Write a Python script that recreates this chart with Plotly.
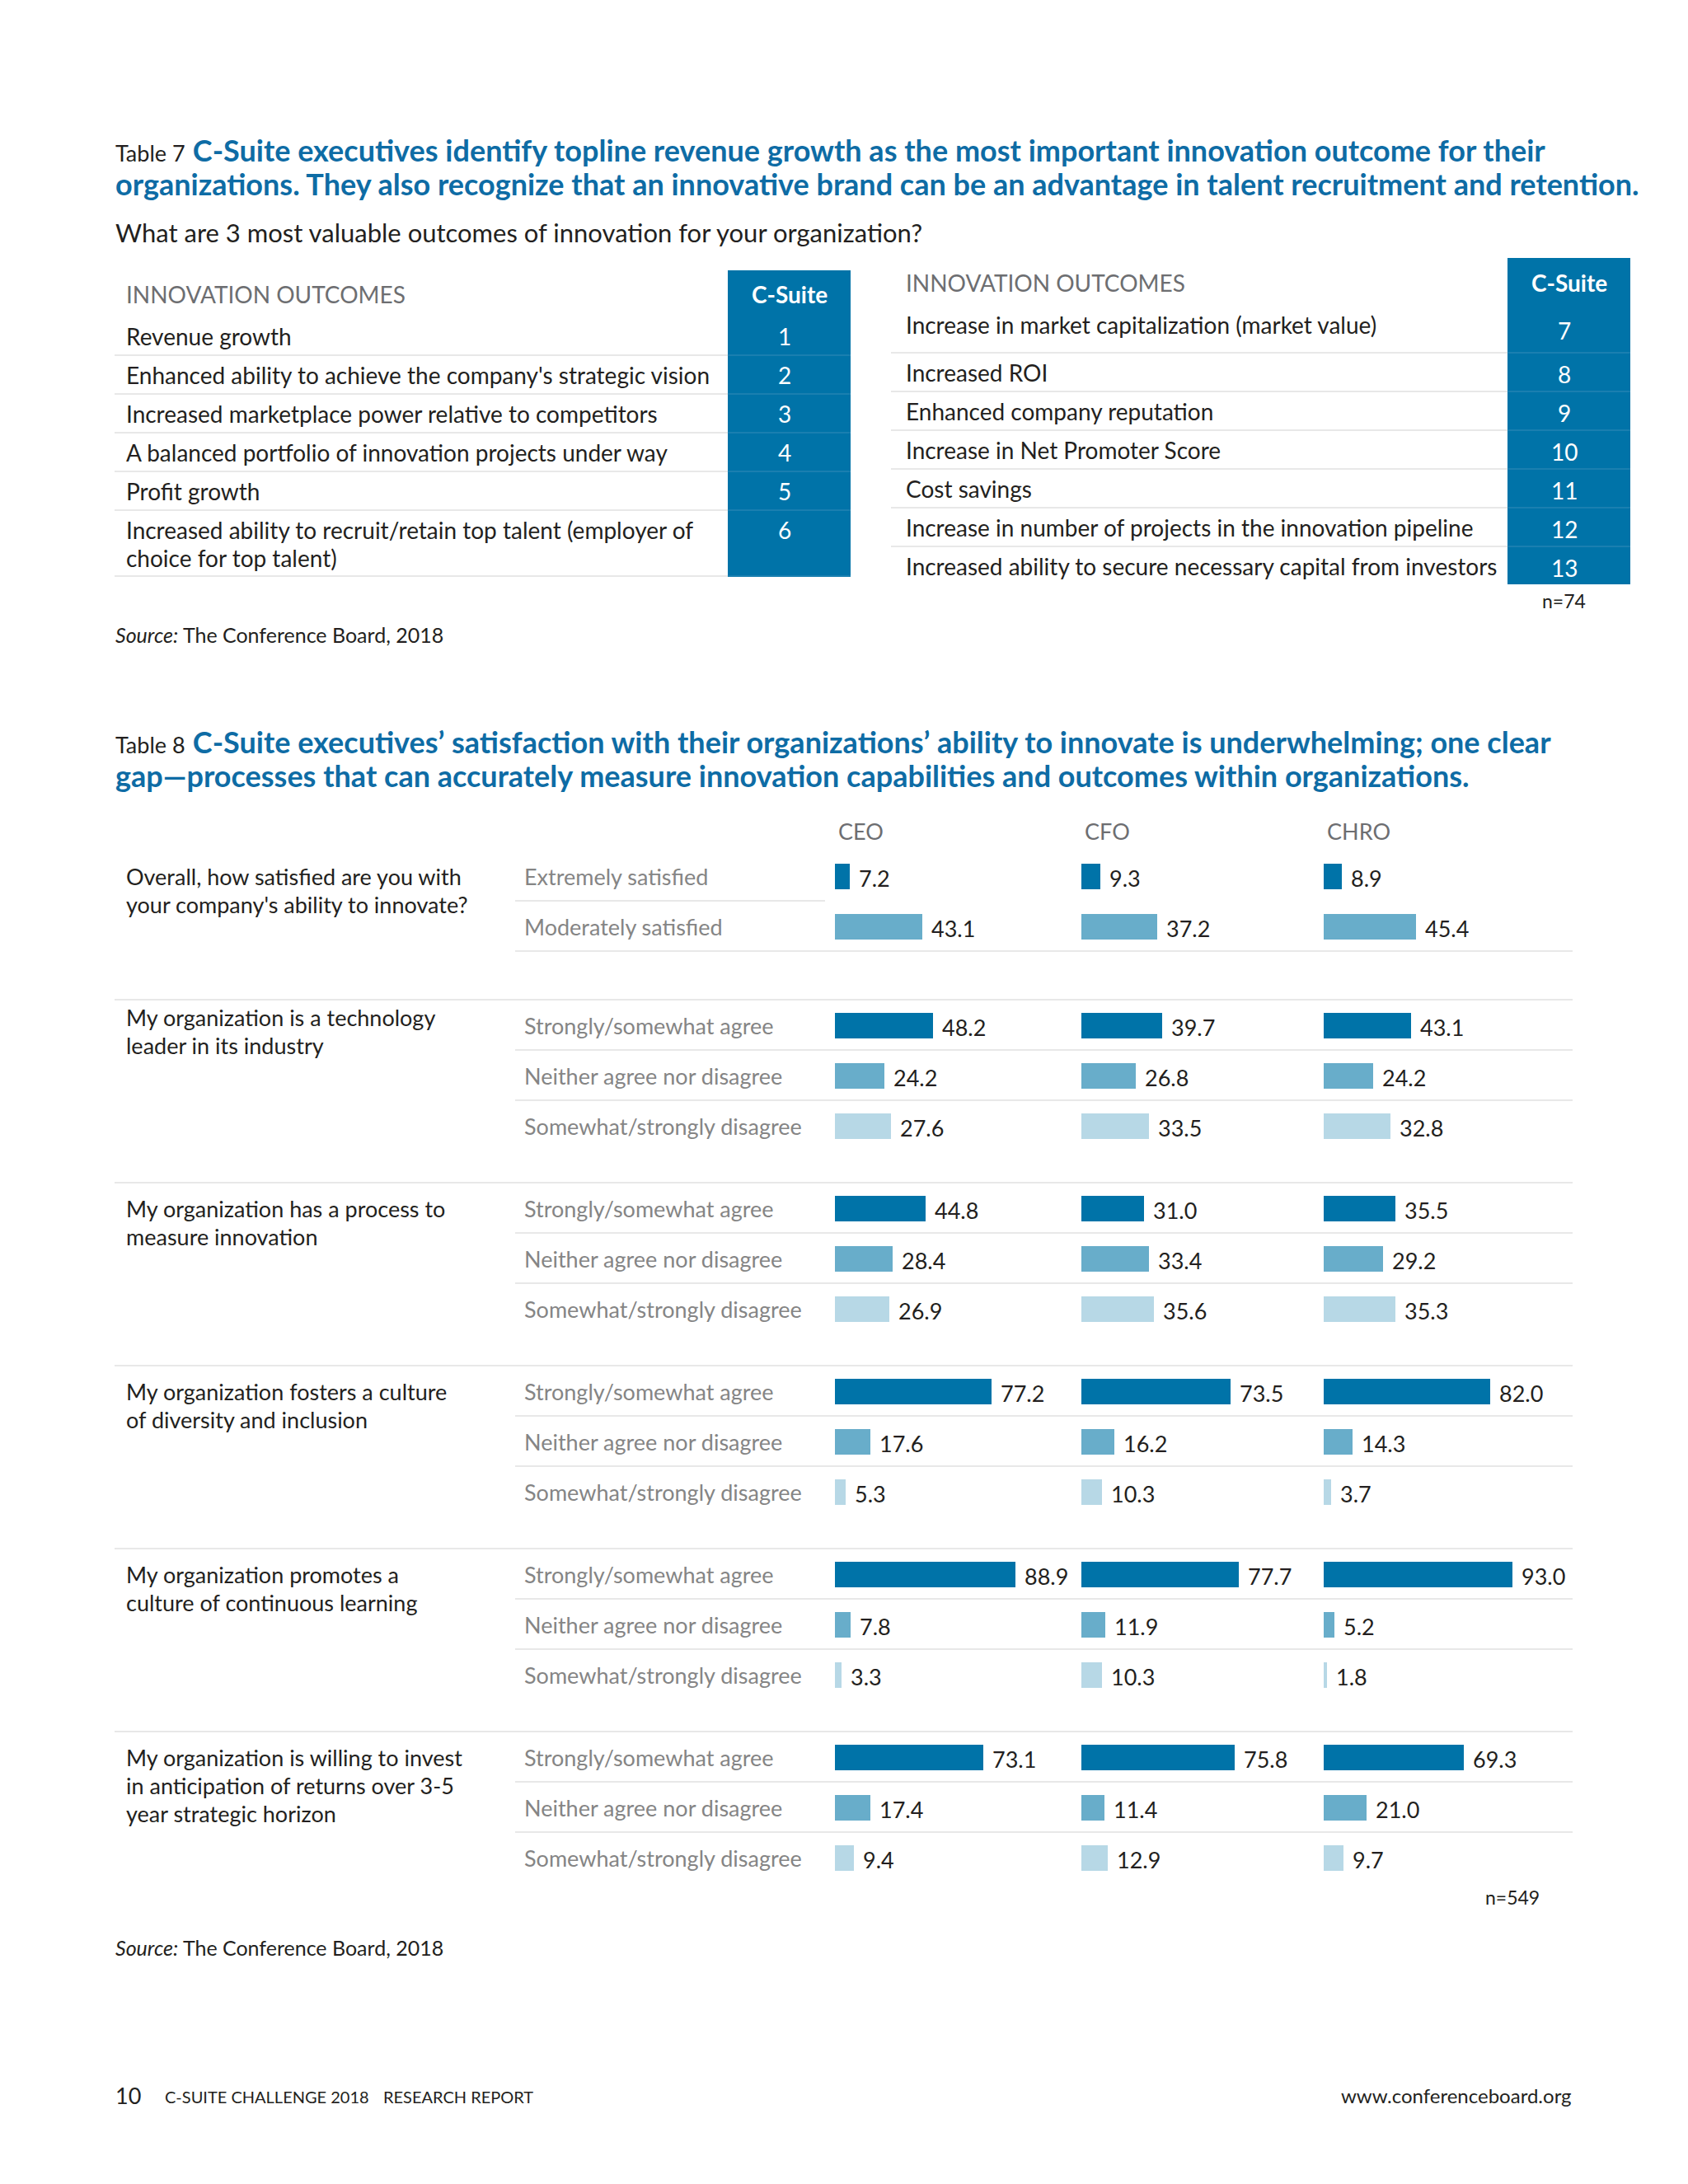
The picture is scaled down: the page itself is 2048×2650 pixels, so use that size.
import plotly.graph_objects as go

W, H = 2048, 2650
OX, OY = 10, 10  # page offset compensation (body margin)
FONT = "Lato"
BLUE = "#0073a8"
MID = "#68adca"
LIGHT = "#b7d8e6"
TITLE_BLUE = "#0e6ca5"
TEXT = "#231f20"
GRAY = "#6d6e71"
LGRAY = "#858585"
RULE = "#e8e8e8"

# ---------------- Table 7 data ----------------
t7_label = "Table 7"
t7_title = ["C-Suite executives identify topline revenue growth as the most important innovation outcome for their",
            "organizations. They also recognize that an innovative brand can be an advantage in talent recruitment and retention."]
t7_question = "What are 3 most valuable outcomes of innovation for your organization?"
col_header = "INNOVATION OUTCOMES"
rank_header = "C-Suite"
outcomes_left = ["Revenue growth",
                 "Enhanced ability to achieve the company's strategic vision",
                 "Increased marketplace power relative to competitors",
                 "A balanced portfolio of innovation projects under way",
                 "Profit growth",
                 "Increased ability to recruit/retain top talent (employer of<br>choice for top talent)"]
ranks_left = [1, 2, 3, 4, 5, 6]
outcomes_right = ["Increase in market capitalization (market value)",
                  "Increased ROI",
                  "Enhanced company reputation",
                  "Increase in Net Promoter Score",
                  "Cost savings",
                  "Increase in number of projects in the innovation pipeline",
                  "Increased ability to secure necessary capital from investors"]
ranks_right = [7, 8, 9, 10, 11, 12, 13]
t7_n = "n=74"
source_text = "<i>Source:</i> The Conference Board, 2018"

# ---------------- Table 8 data ----------------
t8_label = "Table 8"
t8_title = ["C-Suite executives\u2019 satisfaction with their organizations\u2019 ability to innovate is underwhelming; one clear",
            "gap\u2014processes that can accurately measure innovation capabilities and outcomes within organizations."]
roles = ["CEO", "CFO", "CHRO"]
questions = ["Overall, how satisfied are you with<br>your company's ability to innovate?",
             "My organization is a technology<br>leader in its industry",
             "My organization has a process to<br>measure innovation",
             "My organization fosters a culture<br>of diversity and inclusion",
             "My organization promotes a<br>culture of continuous learning",
             "My organization is willing to invest<br>in anticipation of returns over 3-5<br>year strategic horizon"]
group_sizes = [2, 3, 3, 3, 3, 3]
response_labels = ["Extremely satisfied", "Moderately satisfied",
                   "Strongly/somewhat agree", "Neither agree nor disagree", "Somewhat/strongly disagree",
                   "Strongly/somewhat agree", "Neither agree nor disagree", "Somewhat/strongly disagree",
                   "Strongly/somewhat agree", "Neither agree nor disagree", "Somewhat/strongly disagree",
                   "Strongly/somewhat agree", "Neither agree nor disagree", "Somewhat/strongly disagree",
                   "Strongly/somewhat agree", "Neither agree nor disagree", "Somewhat/strongly disagree"]
ceo_values = [7.2, 43.1, 48.2, 24.2, 27.6, 44.8, 28.4, 26.9, 77.2, 17.6, 5.3, 88.9, 7.8, 3.3, 73.1, 17.4, 9.4]
cfo_values = [9.3, 37.2, 39.7, 26.8, 33.5, 31.0, 33.4, 35.6, 73.5, 16.2, 10.3, 77.7, 11.9, 10.3, 75.8, 11.4, 12.9]
chro_values = [8.9, 45.4, 43.1, 24.2, 32.8, 35.5, 29.2, 35.3, 82.0, 14.3, 3.7, 93.0, 5.2, 1.8, 69.3, 21.0, 9.7]
t8_n = "n=549"
footer_page = "10"
footer_pub = "C-SUITE CHALLENGE 2018"
footer_kind = "RESEARCH REPORT"
footer_url = "www.conferenceboard.org"

# ---------------- helpers ----------------
ann = []
shapes = []


def px(x):
    return (x - OX) / W


def py(y):
    return y - OY


def text(x, y, s, size, color=TEXT, anchor="left", family=FONT):
    ann.append(dict(x=px(x), y=py(y), xref="paper", yref="y", text=s, showarrow=False,
                    xanchor=anchor, yanchor="middle", borderpad=0,
                    font=dict(family=family, size=size, color=color)))


def hline(x0, x1, y, color=RULE, width=2):
    shapes.append(dict(type="line", xref="paper", yref="y", x0=px(x0), x1=px(x1),
                       y0=py(y), y1=py(y), line=dict(color=color, width=width), layer="below"))


def rect(x0, x1, y0, y1, color):
    shapes.append(dict(type="rect", xref="paper", yref="y", x0=px(x0), x1=px(x1),
                       y0=py(y0), y1=py(y1), fillcolor=color, line=dict(width=0), layer="below"))


BODY = 28
TITLE = 36
LABEL = 27

# ---------------- Table 7 ----------------
text(141, 184, f"<span style='font-size:27px;color:{TEXT}'>{t7_label}</span> <b>{t7_title[0]}</b>", TITLE, TITLE_BLUE)
text(141, 225, f"<b>{t7_title[1]}</b>", TITLE, TITLE_BLUE)
text(141, 284, t7_question, 31, TEXT)

# left table
L_TX, L_C0, L_C1 = 154, 885, 1034
rect(L_C0, L_C1, 330, 701, BLUE)
text(L_TX, 359, col_header, BODY, GRAY)
text((L_C0 + L_C1) / 2, 359, f"<b>{rank_header}</b>", BODY, "white", anchor="center")
top = 386
for lab, rk in zip(outcomes_left, ranks_left):
    lines = lab.split("<br>")
    for k, ln in enumerate(lines):
        text(L_TX, top + 24 + 34 * k, ln, BODY, TEXT)
    text((L_C0 + L_C1) / 2 - 6, top + 24, str(rk), BODY, "white", anchor="center")
    h = 47 if len(lines) == 1 else 80
    top += h
    hline(141, L_C0, top)
    hline(L_C0, L_C1, top, color="#1a7fb0")

# right table
R_TX, R_C0, R_C1 = 1100, 1831, 1980
rect(R_C0, R_C1, 315, 711, BLUE)
text(R_TX, 345, col_header, BODY, GRAY)
text((R_C0 + R_C1) / 2, 345, f"<b>{rank_header}</b>", BODY, "white", anchor="center")
top = 372
for i, (lab, rk) in enumerate(zip(outcomes_right, ranks_right)):
    h = 58 if i == 0 else 47
    text(R_TX, top + 24, lab, BODY, TEXT)
    text((R_C0 + R_C1) / 2 - 6, top + h / 2 + 2, str(rk), BODY, "white", anchor="center")
    top += h
    if i < len(outcomes_right) - 1:
        hline(1083, R_C0, top)
        hline(R_C0, R_C1, top, color="#1a7fb0")
text(1899, 731, t7_n, 23, TEXT, anchor="center")
text(141, 772, source_text, 25, TEXT)

# ---------------- Table 8 ----------------
text(141, 902, f"<span style='font-size:27px;color:{TEXT}'>{t8_label}</span> <b>{t8_title[0]}</b>", TITLE, TITLE_BLUE)
text(141, 943, f"<b>{t8_title[1]}</b>", TITLE, TITLE_BLUE)

bar_starts = [1015, 1314, 1608]
PX_PER_UNIT = 2.46
AX_W = 290
for role, xs in zip(roles, bar_starts):
    text(xs + 3, 1010, role, 27, GRAY)

ROW = 61
group_tops = [1034] + [1215 + 222 * g for g in range(len(group_sizes) - 1)]
y_centers, bar_colors = [], []
idx = 0
fig = go.Figure()
for g, (q, n) in enumerate(zip(questions, group_sizes)):
    gt = group_tops[g]
    if g > 0:
        hline(141, 1910, gt)
    for k, ln in enumerate(q.split("<br>")):
        text(154, gt + 31 + 34 * k - (10 if g == 1 else 0), ln, LABEL, TEXT)
    shades = [BLUE, MID, LIGHT]
    for r in range(n):
        yc = gt + 31 + ROW * r
        y_centers.append(py(yc))
        bar_colors.append(shades[r])
        text(637, yc, response_labels[idx], LABEL, LGRAY)
        if g == 0:
            hline(627, 1003 if r == 0 else 1910, gt + ROW * (r + 1))
        elif r < n - 1:
            hline(627, 1910, gt + ROW * (r + 1))
        idx += 1

series = [ceo_values, cfo_values, chro_values]
axis_names = ["x", "x2", "x3"]
for role, vals, ax in zip(roles, series, axis_names):
    fig.add_trace(go.Bar(x=vals, y=y_centers, orientation="h", width=31, name=role,
                         marker=dict(color=bar_colors, line=dict(width=0)),
                         xaxis=ax, yaxis="y", hoverinfo="skip", showlegend=False))
    for v, yc in zip(vals, y_centers):
        ann.append(dict(x=v, y=yc + 2, xref=ax, yref="y", text=f"{v:.1f}", showarrow=False,
                        xanchor="left", yanchor="middle", xshift=10, borderpad=0,
                        font=dict(family=FONT, size=27, color=TEXT)))

text(1837, 2304, t8_n, 23, TEXT, anchor="center")
text(141, 2365, source_text, 25, TEXT)

# footer
text(141, 2544, footer_page, 27, TEXT)
text(201, 2546, footer_pub, 20, TEXT)
text(466, 2546, footer_kind, 20, TEXT)
text(1910, 2544, footer_url, 24, TEXT, anchor="right")

layout_axes = {}
for ax, xs in zip(["xaxis", "xaxis2", "xaxis3"], bar_starts):
    layout_axes[ax] = dict(domain=[px(xs), px(xs + AX_W)], range=[0, AX_W / PX_PER_UNIT],
                           visible=False, fixedrange=True, anchor="y")

fig.update_layout(
    width=W, height=H,
    margin=dict(l=0, r=0, t=0, b=0),
    paper_bgcolor="white", plot_bgcolor="white",
    yaxis=dict(domain=[0, 1], range=[H, 0], visible=False, fixedrange=True),
    annotations=ann, shapes=shapes, bargap=0,
    hovermode=False,
    font=dict(family=FONT),
    **layout_axes,
)

fig.write_html("out.html")
